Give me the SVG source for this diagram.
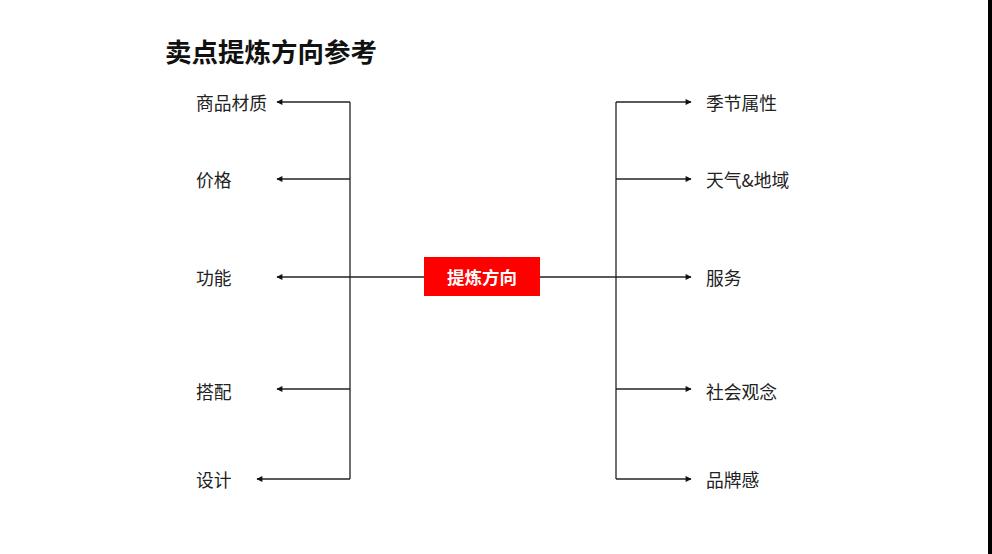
<svg xmlns="http://www.w3.org/2000/svg" width="992" height="554" viewBox="0 0 992 554">
<style>
.lbl{font-family:"Noto Sans CJK SC","Liberation Sans",sans-serif;font-size:17.8px;fill:#222;dominant-baseline:central}
.ln{stroke:#222;stroke-width:1.3;fill:none}
</style>
<defs>
<marker id="ah" viewBox="0 0 10 10" refX="9" refY="5" markerWidth="8" markerHeight="6" markerUnits="userSpaceOnUse" orient="auto">
<path d="M0,0 L10,5 L0,10 z" fill="#111"/>
</marker>
</defs>
<rect width="992" height="554" fill="#fff"/>
<rect x="988" y="0" width="4" height="554" fill="#000"/>
<text x="165" y="50" style="font-family:'Noto Sans CJK SC',sans-serif;font-size:26.5px;font-weight:bold;fill:#111;dominant-baseline:central">卖点提炼方向参考</text>
<g id="connectors">
<line class="ln" x1="350" y1="102" x2="350" y2="479"/>
<line class="ln" x1="616" y1="102" x2="616" y2="479"/>
<line class="ln" x1="350" y1="102" x2="277" y2="102" marker-end="url(#ah)"/>
<line class="ln" x1="350" y1="179" x2="277" y2="179" marker-end="url(#ah)"/>
<line class="ln" x1="616" y1="277" x2="277" y2="277" marker-end="url(#ah)"/>
<line class="ln" x1="350" y1="389" x2="277" y2="389" marker-end="url(#ah)"/>
<line class="ln" x1="350" y1="479" x2="257" y2="479" marker-end="url(#ah)"/>
<line class="ln" x1="616" y1="102" x2="691" y2="102" marker-end="url(#ah)"/>
<line class="ln" x1="616" y1="179" x2="691" y2="179" marker-end="url(#ah)"/>
<line class="ln" x1="616" y1="277" x2="691" y2="277" marker-end="url(#ah)"/>
<line class="ln" x1="616" y1="389" x2="691" y2="389" marker-end="url(#ah)"/>
<line class="ln" x1="616" y1="479" x2="691" y2="479" marker-end="url(#ah)"/>
</g>
<g id="center">
<rect x="424" y="257" width="116" height="39" fill="#ff0000"/>
<text x="482" y="276.5" text-anchor="middle" style="font-family:'Noto Sans CJK SC',sans-serif;font-size:17.5px;font-weight:bold;fill:#fff;dominant-baseline:central">提炼方向</text>
</g>
<g id="n-material"><text class="lbl" x="196" y="102">商品材质</text></g>
<g id="n-price"><text class="lbl" x="196" y="179">价格</text></g>
<g id="n-function"><text class="lbl" x="196" y="277">功能</text></g>
<g id="n-match"><text class="lbl" x="196" y="391">搭配</text></g>
<g id="n-design"><text class="lbl" x="196" y="479">设计</text></g>
<g id="n-season"><text class="lbl" x="706" y="102">季节属性</text></g>
<g id="n-weather"><text class="lbl" x="706" y="179">天气&amp;地域</text></g>
<g id="n-service"><text class="lbl" x="706" y="277">服务</text></g>
<g id="n-social"><text class="lbl" x="706" y="391">社会观念</text></g>
<g id="n-brand"><text class="lbl" x="706" y="479">品牌感</text></g>
</svg>
